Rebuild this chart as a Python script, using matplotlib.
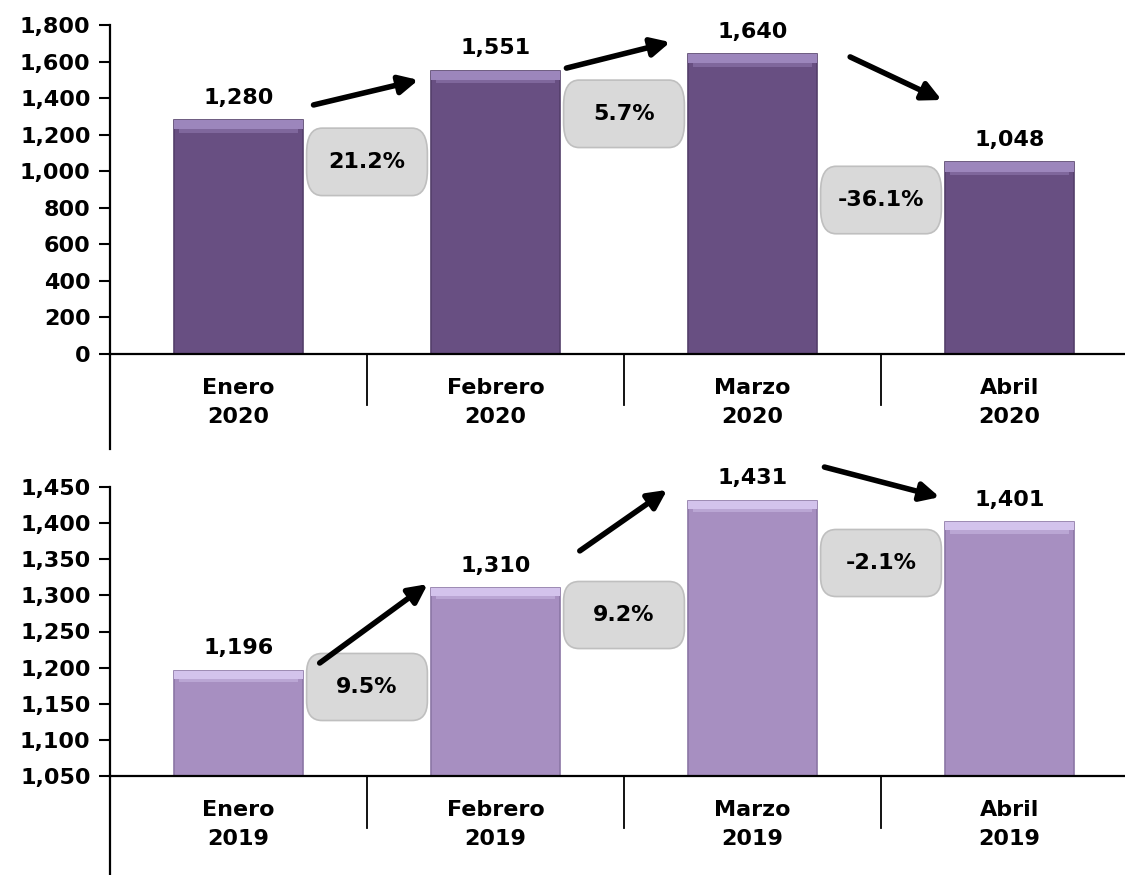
import matplotlib
matplotlib.use('Agg')
import matplotlib.pyplot as plt
from matplotlib.patches import FancyBboxPatch
from matplotlib.lines import Line2D
import matplotlib.transforms as mtransforms

# data
months = ['Enero', 'Febrero', 'Marzo', 'Abril']
values_2020 = [1280, 1551, 1640, 1048]
values_2019 = [1196, 1310, 1431, 1401]
pct_2020 = ['21.2%', '5.7%', '-36.1%']
pct_2019 = ['9.5%', '9.2%', '-2.1%']

plt.rcParams['font.family'] = 'DejaVu Sans'
plt.rcParams['font.weight'] = 'bold'

W, H = 1125, 875
fig = plt.figure(figsize=(W / 100, H / 100), dpi=100)


def px_axes(left, top, width, height):
    return fig.add_axes([left / W, 1 - (top + height) / H, width / W, height / H])


def draw_panel(ax, vals, year, pcts, ylim, step, color, light, edge,
               box_y, arrows, spine_ext, sep_ext, box_h):
    x = list(range(len(vals)))
    ax.set_xlim(-0.5, len(vals) - 0.5)
    ax.set_ylim(*ylim)
    span = ylim[1] - ylim[0]
    ax.bar(x, [v - ylim[0] for v in vals], bottom=ylim[0], width=0.5,
           color=color, edgecolor=edge, linewidth=1.2, zorder=2)
    band = 0.028 * span
    ax.bar(x, [band] * len(vals), bottom=[v - band for v in vals], width=0.5,
           color=light, edgecolor='none', zorder=3)
    ax.bar(x, [band * 0.4] * len(vals), bottom=[v - band * 1.4 for v in vals],
           width=0.46, color=light, alpha=0.45, edgecolor='none', zorder=3)

    for xi, v in zip(x, vals):
        ax.annotate(f'{v:,}', (xi, v), xytext=(0, 9), textcoords='offset points',
                    ha='center', va='bottom', fontsize=16, fontweight='bold',
                    annotation_clip=False, zorder=5)

    ticks = list(range(ylim[0], ylim[1] + 1, step))
    ax.set_yticks(ticks)
    ax.set_yticklabels([f'{t:,}' for t in ticks])
    ax.tick_params(axis='y', labelsize=16, length=8, width=1.5, pad=6)
    ax.set_xticks([])
    for s in ['top', 'right']:
        ax.spines[s].set_visible(False)
    for s in ['left', 'bottom']:
        ax.spines[s].set_linewidth(1.6)

    # extensions of the axis below zero and category separators
    ax.add_line(Line2D([0, 0], [0, -spine_ext], transform=ax.transAxes,
                       color='black', lw=1.6, clip_on=False))
    tr = mtransforms.blended_transform_factory(ax.transData, ax.transAxes)
    for k in range(1, len(vals)):
        ax.add_line(Line2D([k - 0.5, k - 0.5], [0, -sep_ext], transform=tr,
                           color='black', lw=1.3, clip_on=False))
    for xi, m in zip(x, months):
        ax.annotate(f'{m}\n{year}', (xi, 0), xycoords=tr, xytext=(0, -17),
                    textcoords='offset points', ha='center', va='top',
                    fontsize=16, fontweight='bold', linespacing=1.6,
                    annotation_clip=False)

    # percentage boxes
    asp = (ax.get_position().width * W) / (ax.get_position().height * H) / len(vals)
    for k, (p, by) in enumerate(zip(pcts, box_y)):
        bw = 0.47
        patch = FancyBboxPatch((k + 0.5 - bw / 2, by - box_h / 2), bw, box_h,
                               boxstyle='round,pad=0,rounding_size=0.06',
                               mutation_aspect=1 / asp,
                               transform=tr, facecolor='#D9D9D9',
                               edgecolor='#BFBFBF', lw=1.2, zorder=4,
                               clip_on=False)
        ax.add_patch(patch)
        ax.text(k + 0.5, by, p, transform=tr, ha='center', va='center',
                fontsize=16, fontweight='bold', zorder=5)

    for (x0, y0), (x1, y1) in arrows:
        ax.annotate('', xy=(x1, y1), xytext=(x0, y0), xycoords='axes fraction',
                    textcoords='axes fraction',
                    arrowprops=dict(arrowstyle='-|>', lw=4, color='black',
                                    mutation_scale=28, shrinkA=0, shrinkB=0),
                    annotation_clip=False, zorder=6)


ax1 = px_axes(110, 25, 1028, 329)
draw_panel(ax1, values_2020, 2020, pct_2020, (0, 1800), 200,
           '#684F82', '#9C86BC', '#543F6B',
           box_y=[0.584, 0.73, 0.468],
           arrows=[((0.198, 0.757), (0.300, 0.833)),
                   ((0.444, 0.869), (0.545, 0.948)),
                   ((0.720, 0.903), (0.809, 0.772))],
           spine_ext=0.29, sep_ext=0.155, box_h=0.205)

ax2 = px_axes(110, 487, 1028, 289)
draw_panel(ax2, values_2019, 2019, pct_2019, (1050, 1450), 50,
           '#A78FC1', '#D3C3EC', '#8B76A5',
           box_y=[0.308, 0.557, 0.737],
           arrows=[((0.204, 0.391), (0.309, 0.664)),
                   ((0.457, 0.779), (0.542, 0.990)),
                   ((0.695, 1.069), (0.807, 0.965))],
           spine_ext=0.345, sep_ext=0.18, box_h=0.232)

fig.savefig('out.png', dpi=100)
